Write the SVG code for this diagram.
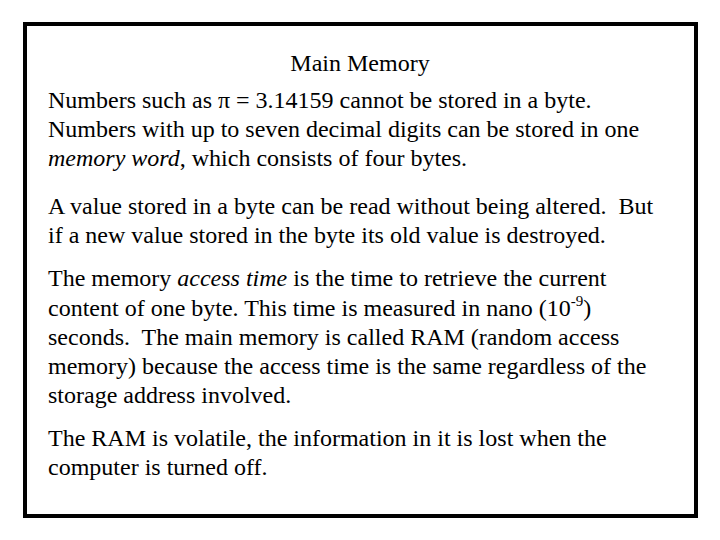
<svg xmlns="http://www.w3.org/2000/svg" width="720" height="540" viewBox="0 0 720 540">
<style>text{font-family:"Liberation Serif","Times New Roman",serif;font-size:24px;fill:#000;white-space:pre}</style>
<rect width="720" height="540" fill="#fff"/>
<rect x="25" y="24" width="671" height="492" fill="none" stroke="#000" stroke-width="4"/>
<text x="360" y="71" text-anchor="middle">Main Memory</text>
<text x="48" y="108">Numbers such as π = 3.14159 cannot be stored in a byte.</text>
<text x="48" y="137">Numbers with up to seven decimal digits can be stored in one</text>
<text x="48" y="166"><tspan font-style="italic">memory word</tspan>, which consists of four bytes.</text>
<text x="48" y="214">A value stored in a byte can be read without being altered.  But</text>
<text x="48" y="243">if a new value stored in the byte its old value is destroyed.</text>
<text x="48" y="286">The memory <tspan font-style="italic">access time</tspan> is the time to retrieve the current</text>
<text x="48" y="316">content of one byte. This time is measured in nano (10<tspan font-size="15" dy="-10">-9</tspan><tspan dy="10">)</tspan></text>
<text x="48" y="345">seconds.  The main memory is called RAM (random access</text>
<text x="48" y="374">memory) because the access time is the same regardless of the</text>
<text x="48" y="403">storage address involved.</text>
<text x="48" y="446">The RAM is volatile, the information in it is lost when the</text>
<text x="48" y="475">computer is turned off.</text>
</svg>
